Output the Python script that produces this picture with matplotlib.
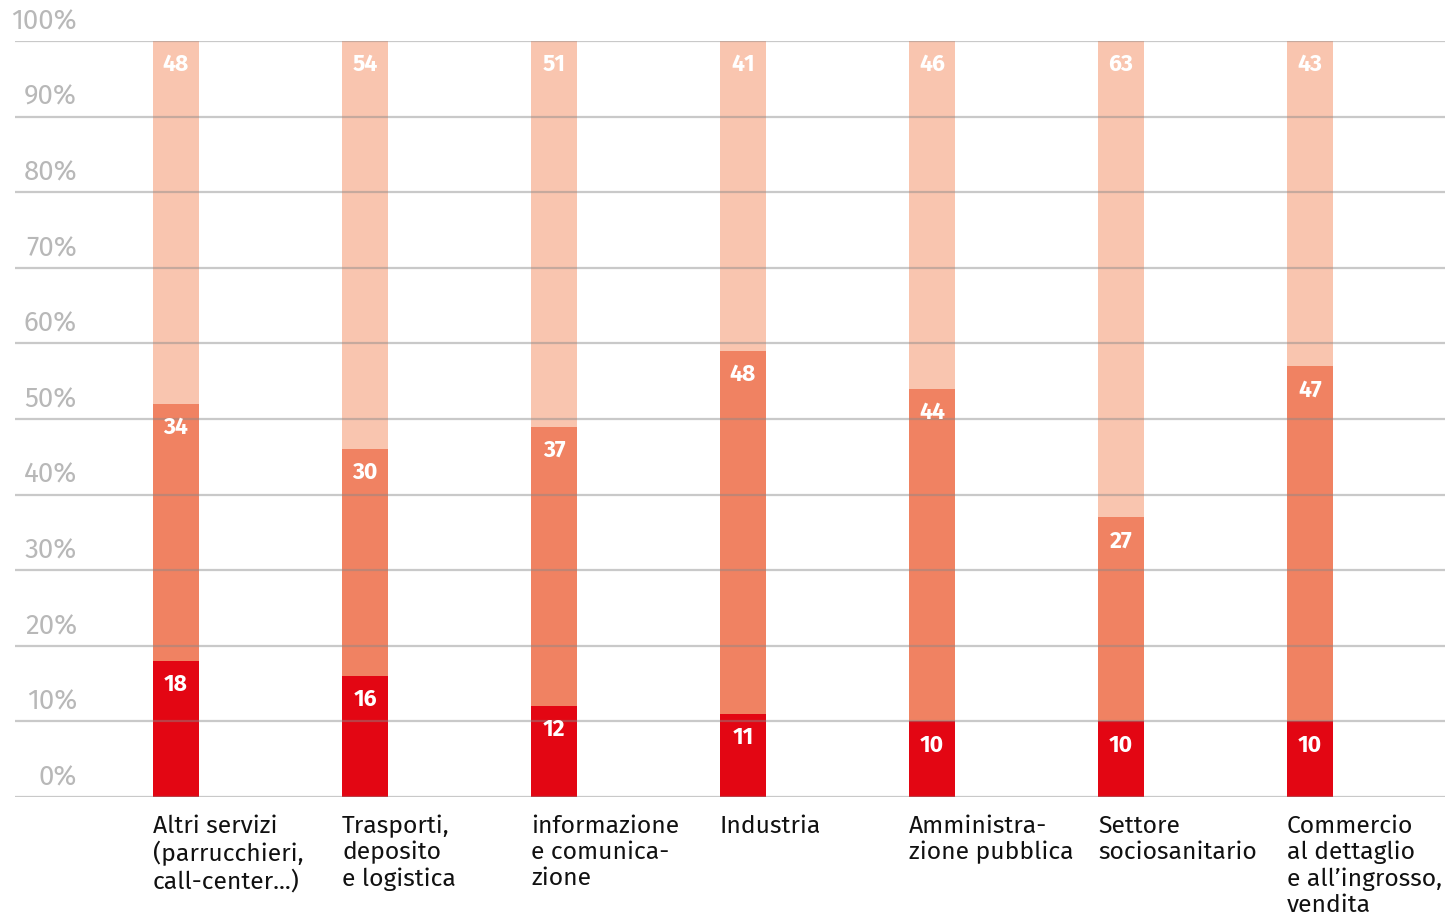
import matplotlib
matplotlib.use('Agg')
import matplotlib.pyplot as plt
import numpy as np

plt.rcParams['font.family'] = ['Fira Sans', 'Noto Sans', 'DejaVu Sans']

# ---- dati ----
categorie = [
    'Altri servizi\n(parrucchieri,\ncall-center...)',
    'Trasporti,\ndeposito\ne logistica',
    'informazione\ne comunica-\nzione',
    'Industria',
    'Amministra-\nzione pubblica',
    'Settore\nsociosanitario',
    'Commercio\nal dettaglio\ne all\u2019ingrosso,\nvendita',
]
basso = [18, 16, 12, 11, 10, 10, 10]
medio = [34, 30, 37, 48, 44, 27, 47]
alto = [48, 54, 51, 41, 46, 63, 43]
yticks = [0, 10, 20, 30, 40, 50, 60, 70, 80, 90, 100]

C_BASSO = '#e30613'
C_MEDIO = '#f08262'
C_ALTO = '#f9c5af'

W, H = 1445, 915
fig = plt.figure(figsize=(W / 100, H / 100), dpi=100)
ax = fig.add_axes([15 / W, (H - 797) / H, 1430 / W, 756 / H])

x = np.arange(len(categorie))
bw = 46 / 189
ax.bar(x, basso, bw, color=C_BASSO, zorder=2)
ax.bar(x, medio, bw, bottom=basso, color=C_MEDIO, zorder=2)
ax.bar(x, alto, bw, bottom=np.array(basso) + np.array(medio), color=C_ALTO, zorder=2)

ax.set_xlim((15 - 176) / 189, (1445 - 176) / 189)
ax.set_ylim(0, 100)

# griglia sopra le barre
for t in yticks:
    ax.axhline(t, color='#888888', alpha=0.45, lw=1.6, zorder=3)
    ax.text((77 - 176) / 189, t + 0.8, f'{t}%', ha='right', va='bottom',
            fontsize=20, color='#b8b8b8')

# etichette valori
for i in range(len(categorie)):
    tops = [basso[i], basso[i] + medio[i], 100]
    vals = [basso[i], medio[i], alto[i]]
    for top, v in zip(tops, vals):
        ax.text(x[i], top - 3.1, str(v), ha='center', va='center',
                fontsize=16.5, fontweight='bold', color='white', zorder=4)

# etichette categorie
for i, lab in enumerate(categorie):
    ax.text(x[i] - bw / 2, -2.35, lab, ha='left', va='top', fontsize=17.8,
            color='#111111', linespacing=1.16)

for s in ax.spines.values():
    s.set_visible(False)
ax.set_xticks([])
ax.set_yticks([])

fig.savefig('out.png', dpi=100)
